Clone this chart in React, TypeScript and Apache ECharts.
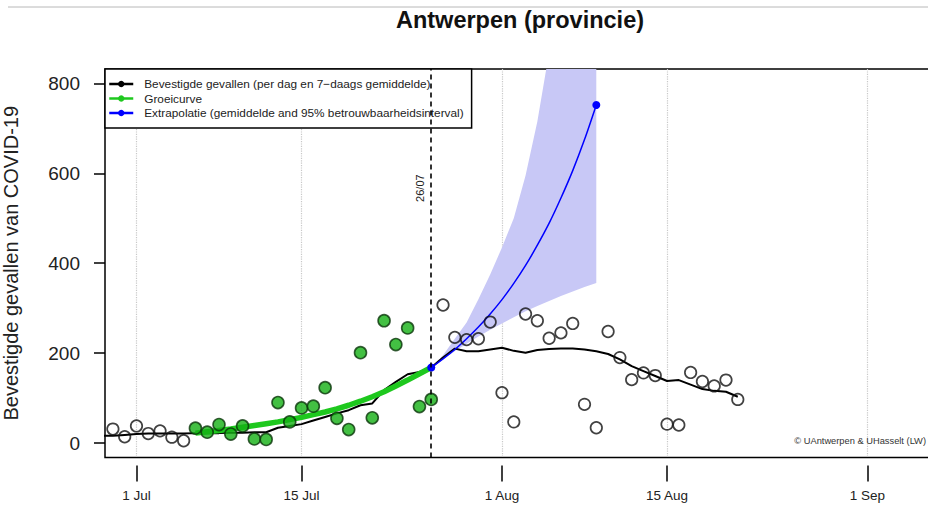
import React, { useEffect, useRef } from "react";
import * as echarts from "echarts";

// x values are days counted from 1 July (1 Jul = 0)
const tickDays = [0, 14, 31, 45, 62];
const tickLabels = ["1 Jul", "15 Jul", "1 Aug", "15 Aug", "1 Sep"];
const yTicks = [0, 200, 400, 600, 800];

// daily confirmed cases
const preDays = [-2, -1, 0, 1, 2, 3, 4];
const preCases = [31, 14, 38, 21, 27, 13, 5];
const fitDays = [5, 6, 7, 8, 9, 10, 11, 12, 13, 14, 15, 16, 17, 18, 19, 20, 21, 22, 23, 24, 25];
const fitCases = [33, 24, 41, 20, 38, 9, 8, 90, 47, 78, 82, 123, 55, 30, 201, 56, 272, 219, 256, 81, 97];
const postDays = [26, 27, 28, 29, 30, 31, 32, 33, 34, 35, 36, 37, 38, 39, 40, 41, 42, 43, 44, 45, 46, 47, 48, 49, 50, 51];
const postCases = [307, 235, 230, 232, 269, 112, 47, 287, 272, 233, 245, 266, 86, 34, 248, 190, 141, 156, 150, 42, 40, 157, 137, 127, 140, 97];

// 7-day average
const avgDays = [-3, -2, -1, 0, 1, 2, 3, 4, 5, 6, 7, 8, 9, 10, 11, 12, 13, 14, 15, 16, 17, 18, 19, 20, 21, 22, 23, 24, 25, 26, 27, 28, 29, 30, 31, 32, 33, 34, 35, 36, 37, 38, 39, 40, 41, 42, 43, 44, 45, 46, 47, 48, 49, 50, 51];
const avgCases = [16, 16, 18, 20, 21, 21, 21, 21, 22, 22, 22, 23, 23, 24, 24, 34, 38, 42, 50, 58, 66, 73, 84, 88, 118, 136, 153, 158, 168, 190, 210, 204, 204, 208, 212, 205, 201, 207, 209, 210, 210, 208, 204, 198, 186, 171, 160, 149, 138, 140, 130, 120, 116, 114, 103];

// growth curve (fit)
const growthDays = [5, 6, 7, 8, 9, 10, 11, 12, 13, 14, 15, 16, 17, 18, 19, 20, 21, 22, 23, 24, 25];
const growthValues = [22, 25, 28, 31, 35, 39, 43, 47, 52, 57, 63, 69, 76, 84, 93, 103, 114, 127, 140, 154, 168];

// extrapolation and 95% interval
const extraDays = [25, 26, 27, 28, 29, 30, 31, 32, 33, 34, 35, 36, 37, 38, 39];
const extraMean = [168, 187, 208, 232, 258, 287, 319, 355, 395, 440, 489, 545, 606, 675, 752];
const extraLower = [168, 186, 204, 221, 237, 252, 266, 280, 293, 305, 316, 327, 337, 347, 356];
const extraUpper = [168, 195, 232, 268, 320, 375, 435, 500, 595, 715, 870, 1060, 1300, 1600, 1950];

const cutoffDay = 25;
const cutoffLabel = "26/07";
const cutoffLabelValue = 567;

const FONT = "'Liberation Sans', Arial, Helvetica, sans-serif";

const pairs = (xs: number[], ys: number[]) => xs.map((x, i) => [x, ys[i]]);

export default function App() {
  const ref = useRef<HTMLDivElement>(null);
  useEffect(() => {
    if (!ref.current) return;
    const chart = echarts.init(ref.current, undefined, { renderer: "svg" });
    const legendNames = [
      "Bevestigde gevallen (per dag en 7\u2212daags gemiddelde)",
      "Groeicurve",
      "Extrapolatie (gemiddelde and 95% betrouwbaarheidsinterval)",
    ];
    const option: any = {
      animation: false,
      backgroundColor: "#fff",
      textStyle: { fontFamily: FONT },
      grid: {
        left: 105,
        top: 69,
        width: 856.8,
        height: 388.4,
        show: true,
        borderColor: "#000",
        borderWidth: 1.5,
        containLabel: false,
        outerBoundsMode: "none",
      },
      legend: {
        left: 105,
        top: 69,
        orient: "vertical",
        backgroundColor: "#fff",
        borderColor: "#000",
        borderWidth: 1.5,
        borderRadius: 0,
        padding: [9, 8, 9, 3],
        itemGap: 2.5,
        itemWidth: 24,
        itemHeight: 8,
        selectedMode: false,
        textStyle: { fontSize: 11.8, color: "#222", fontFamily: FONT, lineHeight: 12, padding: [0, 0, 0, 6] },
        lineStyle: { width: 2.5 },
        data: legendNames,
      },
      xAxis: {
        type: "value",
        min: -2.67,
        max: 70,
        offset: 8,
        axisLine: { show: false, onZero: false },
        axisTick: { show: true, length: 16, customValues: tickDays, lineStyle: { color: "#000", width: 1.5 } },
        axisLabel: {
          customValues: tickDays,
          formatter: (v: number) => tickLabels[tickDays.indexOf(v)] ?? "",
          fontSize: 13.5,
          fontFamily: FONT,
          color: "#222",
          margin: 23,
        },
        splitLine: { show: true, lineStyle: { color: "#c8c8c8", type: "dotted", width: 1.2 } },
      },
      yAxis: {
        type: "value",
        min: -32,
        max: 832,
        axisLine: { show: false, onZero: false },
        axisTick: { show: true, length: 11, customValues: yTicks, lineStyle: { color: "#000", width: 1.5 } },
        axisLabel: { customValues: yTicks, fontSize: 19, color: "#222", margin: 25, fontFamily: FONT },
        splitLine: { show: false },
        name: "Bevestigde gevallen van COVID-19",
        nameLocation: "middle",
        nameGap: 84,
        nameTextStyle: { fontSize: 20, color: "#222", fontFamily: FONT },
      },
      series: [
        {
          name: "fan",
          type: "custom",
          clip: true,
          silent: true,
          z: 1,
          data: [[extraDays[0], extraLower[0]]],
          renderItem: (_params: any, api: any) => {
            const top = extraDays.map((d, i) => api.coord([d, extraUpper[i]]));
            const bottom = extraDays.map((d, i) => api.coord([d, extraLower[i]])).reverse();
            return {
              type: "polygon",
              shape: { points: top.concat(bottom) },
              style: { fill: "#c8c8f6", stroke: "none" },
              silent: true,
            };
          },
        },
        {
          name: legendNames[0],
          type: "line",
          data: pairs(avgDays, avgCases),
          symbol: "circle",
          symbolSize: 7,
          showSymbol: false,
          color: "#000",
          lineStyle: { color: "#000", width: 2 },
          z: 3,
          markLine: {
            silent: true,
            symbol: "none",
            label: { show: false },
            lineStyle: { color: "#000", type: [5, 4], width: 1.6 },
            data: [{ xAxis: cutoffDay }],
            z: 10,
          },
        },
        {
          name: legendNames[1],
          type: "line",
          data: pairs(growthDays, growthValues),
          symbol: "circle",
          symbolSize: 7,
          showSymbol: false,
          color: "#1ec81e",
          lineStyle: { color: "#1ec81e", width: 5.5 },
          z: 4,
        },
        {
          name: legendNames[2],
          type: "line",
          data: pairs(extraDays, extraMean),
          symbol: "circle",
          symbolSize: (_v: any, p: any) => (p.dataIndex === 0 || p.dataIndex === extraDays.length - 1 ? 8 : 0),
          showSymbol: true,
          smooth: 0.3,
          color: "#0000ff",
          itemStyle: { color: "#0000ff" },
          lineStyle: { color: "#0000ff", width: 1.5 },
          z: 5,
        },
        {
          name: "pre",
          type: "scatter",
          data: pairs(preDays, preCases),
          symbol: "circle",
          symbolSize: 11.5,
          itemStyle: { color: "rgba(255,255,255,0)", borderColor: "#111", borderWidth: 1.7 },
          z: 6,
        },
        {
          name: "fit",
          type: "scatter",
          data: pairs(fitDays, fitCases),
          symbol: "circle",
          symbolSize: 12,
          itemStyle: { color: "#14b014", borderColor: "#0a350a", borderWidth: 1.6 },
          z: 6,
        },
        {
          name: "post",
          type: "scatter",
          data: pairs(postDays, postCases),
          symbol: "circle",
          symbolSize: 11.5,
          itemStyle: { color: "rgba(255,255,255,0)", borderColor: "#111", borderWidth: 1.7 },
          z: 6,
        },
      ],
    };
    chart.setOption(option);
    const [lx, ly] = chart.convertToPixel({ gridIndex: 0 }, [cutoffDay, cutoffLabelValue]) as number[];
    chart.setOption({
      graphic: [
        {
          type: "line",
          shape: { x1: 8, y1: 7, x2: 928, y2: 7 },
          style: { stroke: "#b8b8b8", lineWidth: 1 },
          silent: true,
        },
        {
          type: "text",
          x: 520,
          y: 20,
          style: {
            text: "Antwerpen (provincie)",
            font: `bold 23.5px ${FONT}`,
            fill: "#111",
            align: "center",
            verticalAlign: "middle",
          },
        },
        {
          type: "text",
          x: lx - 6,
          y: ly,
          rotation: Math.PI / 2,
          style: {
            text: cutoffLabel,
            font: `11px ${FONT}`,
            fill: "#222",
            align: "center",
            verticalAlign: "bottom",
          },
          z: 20,
        },
        {
          type: "text",
          x: 926,
          y: 441,
          style: {
            text: "\u00a9 UAntwerpen & UHasselt (LW)",
            font: `9.3px ${FONT}`,
            fill: "#333",
            align: "right",
            verticalAlign: "middle",
          },
        },
      ],
    });
    return () => chart.dispose();
  }, []);
  return (
    <div
      ref={ref}
      style={{ position: "fixed", left: 0, top: 0, width: 928, height: 506, background: "#fff" }}
    />
  );
}
